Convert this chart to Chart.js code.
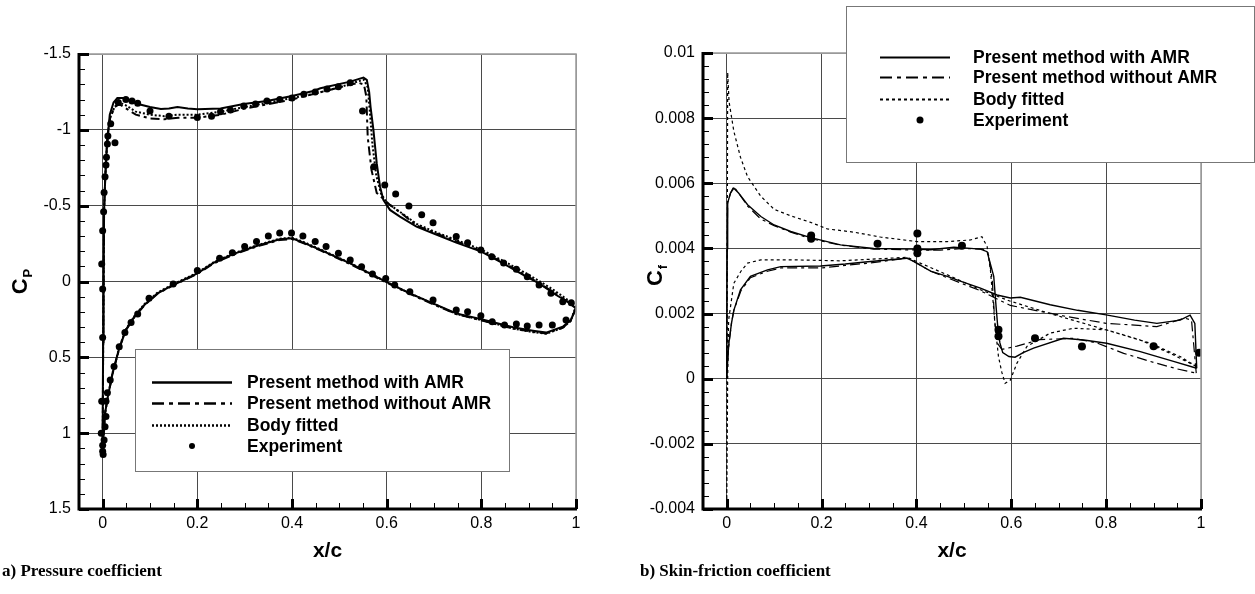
<!DOCTYPE html>
<html lang="en">
<head>
<meta charset="UTF-8">
<title>Pressure and skin-friction coefficient</title>
<style>
  body { margin: 0; background: #fff; width: 1255px; height: 594px; position: relative; overflow: hidden; }
  canvas { position: absolute; top: 0; }
  #cpChart { left: 0; }
  #cfChart { left: 630px; }
  .caption { position: absolute; top: 561px; font: bold 17px "Liberation Serif", "Times New Roman", serif; color: #000; }
</style>
</head>
<body>
<canvas id="cpChart" width="630" height="594"></canvas>
<canvas id="cfChart" width="625" height="594"></canvas>
<div class="caption" style="left:2px">a)&nbsp;Pressure coefficient</div>
<div class="caption" style="left:640px">b)&nbsp;Skin-friction coefficient</div>

<script src="https://cdn.jsdelivr.net/npm/chart.js"></script>
<script>
// axis ticks
const xTicks = [0, 0.2, 0.4, 0.6, 0.8, 1];
const cpTicks = [-1.5, -1, -0.5, 0, 0.5, 1, 1.5];
const cfTicks = [-0.004, -0.002, 0, 0.002, 0.004, 0.006, 0.008, 0.01];
const seriesNames = ['Present method with AMR', 'Present method without AMR', 'Body fitted', 'Experiment'];

// Cp, [x/c, Cp], leading edge -> trailing edge
const cpAmrUpper = [[0,1.12],[0.0005,0.8],[0.001,0.4],[0.002,0],[0.003,-0.47],[0.0055,-0.69],[0.009,-0.9],[0.012,-1.0],[0.015,-1.1],[0.023,-1.18],[0.031,-1.21],[0.045,-1.21],[0.06,-1.19],[0.081,-1.165],[0.1,-1.15],[0.123,-1.137],[0.14,-1.14],[0.158,-1.15],[0.18,-1.14],[0.2,-1.135],[0.249,-1.14],[0.298,-1.17],[0.347,-1.19],[0.4,-1.223],[0.445,-1.256],[0.46,-1.274],[0.523,-1.318],[0.551,-1.344],[0.558,-1.33],[0.563,-1.25],[0.566,-1.15],[0.572,-1.0],[0.579,-0.78],[0.586,-0.625],[0.593,-0.538],[0.607,-0.472],[0.628,-0.428],[0.663,-0.362],[0.698,-0.318],[0.747,-0.256],[0.8,-0.197],[0.846,-0.12],[0.895,-0.032],[0.922,0.012],[0.958,0.089],[0.982,0.133],[1,0.177]];
const cpAmrLower = [[0,1.12],[0.002,1.0],[0.005,0.869],[0.011,0.759],[0.021,0.605],[0.035,0.44],[0.049,0.32],[0.067,0.232],[0.088,0.155],[0.116,0.078],[0.149,0.023],[0.2,-0.054],[0.235,-0.125],[0.277,-0.182],[0.325,-0.234],[0.374,-0.278],[0.4,-0.285],[0.425,-0.255],[0.46,-0.208],[0.523,-0.12],[0.598,0.001],[0.649,0.078],[0.698,0.144],[0.747,0.21],[0.8,0.249],[0.867,0.302],[0.909,0.324],[0.937,0.337],[0.972,0.298],[0.989,0.254],[1,0.177]];
const cpNoAmrUpper = [[0,1.12],[0.0005,0.8],[0.001,0.4],[0.002,0],[0.003,-0.47],[0.0055,-0.69],[0.009,-0.9],[0.012,-1.0],[0.016,-1.08],[0.025,-1.15],[0.035,-1.17],[0.05,-1.14],[0.07,-1.1],[0.1,-1.075],[0.13,-1.07],[0.16,-1.08],[0.2,-1.08],[0.25,-1.1],[0.3,-1.14],[0.35,-1.17],[0.4,-1.2],[0.45,-1.24],[0.5,-1.28],[0.54,-1.31],[0.552,-1.3],[0.557,-1.22],[0.56,-0.95],[0.568,-0.735],[0.579,-0.584],[0.607,-0.505],[0.635,-0.44],[0.663,-0.37],[0.7,-0.322],[0.75,-0.262],[0.8,-0.2],[0.85,-0.118],[0.9,-0.03],[0.95,0.065],[1,0.172]];
const cpNoAmrLower = [[0,1.12],[0.002,1.0],[0.005,0.87],[0.011,0.76],[0.021,0.607],[0.035,0.442],[0.049,0.322],[0.067,0.235],[0.088,0.158],[0.116,0.08],[0.149,0.025],[0.2,-0.05],[0.235,-0.12],[0.277,-0.178],[0.325,-0.23],[0.374,-0.274],[0.4,-0.28],[0.425,-0.252],[0.46,-0.205],[0.523,-0.115],[0.598,0.005],[0.649,0.082],[0.698,0.15],[0.747,0.215],[0.8,0.256],[0.867,0.31],[0.909,0.332],[0.937,0.342],[0.972,0.305],[0.989,0.258],[1,0.172]];
const cpBodyUpper = [[0,1.12],[0.0005,0.8],[0.001,0.4],[0.002,0],[0.003,-0.47],[0.0055,-0.69],[0.009,-0.9],[0.012,-1.0],[0.016,-1.08],[0.025,-1.15],[0.035,-1.18],[0.05,-1.16],[0.07,-1.12],[0.1,-1.1],[0.13,-1.09],[0.16,-1.1],[0.2,-1.1],[0.25,-1.12],[0.3,-1.15],[0.35,-1.18],[0.4,-1.21],[0.45,-1.24],[0.5,-1.28],[0.54,-1.32],[0.552,-1.33],[0.56,-1.28],[0.565,-1.1],[0.57,-0.9],[0.578,-0.7],[0.588,-0.58],[0.6,-0.52],[0.63,-0.455],[0.663,-0.38],[0.7,-0.33],[0.75,-0.27],[0.8,-0.21],[0.85,-0.13],[0.9,-0.045],[0.95,0.05],[1,0.16]];
const cpBodyLower = [[0,1.12],[0.002,1.0],[0.005,0.868],[0.011,0.757],[0.021,0.6],[0.035,0.436],[0.049,0.316],[0.067,0.228],[0.088,0.15],[0.116,0.073],[0.149,0.018],[0.2,-0.058],[0.235,-0.128],[0.277,-0.186],[0.325,-0.238],[0.374,-0.282],[0.4,-0.29],[0.425,-0.26],[0.46,-0.212],[0.523,-0.122],[0.598,0.0],[0.649,0.078],[0.698,0.146],[0.747,0.214],[0.8,0.254],[0.867,0.31],[0.909,0.334],[0.937,0.345],[0.972,0.305],[0.989,0.26],[1,0.16]];
const cpExperiment = [[-0.002,-0.116],[0,-0.335],[0.002,-0.46],[0.003,-0.586],[0.005,-0.69],[0.007,-0.768],[0.008,-0.82],[0.01,-0.907],[0.011,-0.96],[0.017,-1.04],[0.026,-0.915],[0.033,-1.18],[0.049,-1.2],[0.062,-1.19],[0.074,-1.175],[0.1,-1.124],[0.14,-1.09],[0.2,-1.082],[0.23,-1.09],[0.249,-1.12],[0.27,-1.13],[0.298,-1.157],[0.323,-1.17],[0.347,-1.19],[0.374,-1.2],[0.4,-1.21],[0.425,-1.235],[0.449,-1.25],[0.474,-1.27],[0.498,-1.284],[0.523,-1.31],[0.549,-1.124],[0.573,-0.757],[0.596,-0.636],[0.619,-0.577],[0.647,-0.498],[0.674,-0.44],[0.698,-0.388],[0.747,-0.296],[0.771,-0.256],[0.799,-0.208],[0.822,-0.164],[0.847,-0.122],[0.874,-0.08],[0.897,-0.032],[0.922,0.023],[0.947,0.078],[0.972,0.133],[0.99,0.14],
  [0,0.05],[0,0.37],[-0.002,0.79],[-0.003,1.0],[0,1.08],[0,1.12],[0.001,1.14],[0.003,1.045],[0.005,0.957],[0.007,0.89],[0.007,0.79],[0.01,0.733],[0.016,0.649],[0.024,0.56],[0.035,0.43],[0.047,0.337],[0.06,0.27],[0.074,0.214],[0.098,0.11],[0.149,0.016],[0.2,-0.072],[0.247,-0.153],[0.274,-0.19],[0.3,-0.23],[0.325,-0.263],[0.35,-0.3],[0.374,-0.32],[0.399,-0.32],[0.423,-0.3],[0.449,-0.263],[0.472,-0.23],[0.498,-0.186],[0.523,-0.142],[0.547,-0.098],[0.57,-0.05],[0.598,-0.02],[0.617,0.023],[0.649,0.067],[0.698,0.122],[0.747,0.188],[0.771,0.199],[0.799,0.225],[0.823,0.265],[0.849,0.287],[0.874,0.28],[0.897,0.293],[0.922,0.287],[0.95,0.287],[0.979,0.254]];

// Cf, [x/c, Cf], leading edge -> trailing edge
const cfAmrUpper = [[0,0],[0.001,0.004],[0.002,0.0054],[0.008,0.0057],[0.015,0.00585],[0.025,0.0057],[0.044,0.00534],[0.072,0.00498],[0.1,0.00472],[0.135,0.00452],[0.177,0.00433],[0.24,0.00411],[0.31,0.004],[0.4,0.00398],[0.43,0.00396],[0.479,0.00404],[0.535,0.00398],[0.549,0.0039],[0.563,0.00314],[0.568,0.0022],[0.572,0.0015],[0.576,0.0011],[0.582,0.0008],[0.595,0.00068],[0.608,0.00066],[0.625,0.0008],[0.647,0.00094],[0.71,0.00124],[0.753,0.00119],[0.801,0.00109],[0.872,0.00083],[0.942,0.00053],[0.991,0.00032]];
const cfAmrLower = [[0,0],[0.003,0.0008],[0.005,0.00114],[0.01,0.0017],[0.015,0.0021],[0.029,0.00273],[0.05,0.00314],[0.086,0.00334],[0.114,0.00344],[0.198,0.00346],[0.25,0.00352],[0.303,0.0036],[0.38,0.0037],[0.394,0.0036],[0.43,0.0033],[0.465,0.00314],[0.5,0.00296],[0.535,0.00278],[0.57,0.00257],[0.598,0.00248],[0.619,0.0025],[0.682,0.00227],[0.74,0.0021],[0.8,0.00196],[0.86,0.0018],[0.907,0.0017],[0.956,0.0018],[0.977,0.00195],[0.987,0.0017],[0.991,0.00032]];
const cfNoAmrUpper = [[0,0],[0.001,0.004],[0.002,0.0054],[0.008,0.0057],[0.015,0.0059],[0.025,0.0057],[0.044,0.0053],[0.072,0.0049],[0.1,0.0047],[0.135,0.0045],[0.177,0.0043],[0.24,0.0041],[0.31,0.00398],[0.4,0.00395],[0.45,0.00395],[0.5,0.004],[0.54,0.00398],[0.552,0.0038],[0.56,0.003],[0.565,0.0018],[0.57,0.0011],[0.58,0.0009],[0.612,0.001],[0.66,0.0012],[0.731,0.00124],[0.78,0.0011],[0.837,0.00078],[0.9,0.0005],[0.95,0.0003],[0.99,0.00017]];
const cfNoAmrLower = [[0,0],[0.003,0.0008],[0.005,0.0011],[0.01,0.0017],[0.015,0.0021],[0.03,0.0027],[0.05,0.0031],[0.086,0.0033],[0.114,0.0034],[0.2,0.0034],[0.25,0.00348],[0.3,0.00355],[0.38,0.0037],[0.395,0.0036],[0.43,0.0033],[0.465,0.0031],[0.535,0.0027],[0.598,0.00225],[0.65,0.0021],[0.72,0.0019],[0.8,0.0017],[0.907,0.0016],[0.966,0.00186],[0.98,0.0018],[0.99,0.00017]];
const cfBodyUpper = [[0.002,0.0094],[0.005,0.0085],[0.015,0.0076],[0.029,0.0068],[0.044,0.0062],[0.072,0.0056],[0.1,0.0052],[0.135,0.005],[0.177,0.0048],[0.212,0.0046],[0.268,0.0045],[0.324,0.00435],[0.401,0.00421],[0.465,0.00421],[0.514,0.00426],[0.538,0.00436],[0.549,0.00406],[0.556,0.00334],[0.566,0.0016],[0.573,0.00068],[0.58,0.0002],[0.587,-0.00014],[0.598,-0.00004],[0.612,0.00048],[0.633,0.00099],[0.682,0.0014],[0.731,0.00155],[0.801,0.0015],[0.872,0.00119],[0.942,0.00073],[0.991,0.00037]];
const cfBodyLower = [[0,-0.004],[0.002,0],[0.004,0.0018],[0.015,0.00293],[0.03,0.0033],[0.044,0.00355],[0.072,0.00365],[0.135,0.00365],[0.24,0.00362],[0.345,0.0037],[0.38,0.00373],[0.408,0.00355],[0.465,0.00319],[0.535,0.00273],[0.598,0.00238],[0.682,0.002],[0.8,0.0015],[0.893,0.00109],[0.956,0.00068],[0.991,0.00037]];
const cfExperiment = [[0.178,0.0044],[0.178,0.0043],[0.318,0.00414],[0.402,0.00446],[0.402,0.004],[0.402,0.00385],[0.496,0.00408],[0.573,0.0015],[0.573,0.0013],[0.65,0.00124],[0.749,0.00099],[0.9,0.001],[0.996,0.0008]];

const tickFont = { family: '"Liberation Sans", Arial, sans-serif', size: 16 };
const boldFamily = '"Liberation Sans", Arial, sans-serif';

// lower surface run backwards then upper surface, so each method is one loop
const loop = (lower, upper) => lower.slice().reverse().concat(upper);

function lineSet(label, data, width, dash) {
  return { label, data, showLine: true, borderColor: '#000', borderWidth: width, borderDash: dash,
           pointRadius: 0, fill: false, tension: 0 };
}
function pointSet(label, data, r) {
  return { label, data, showLine: false, pointRadius: r, pointHoverRadius: r,
           backgroundColor: '#000', borderColor: '#000', borderWidth: 0, pointStyle: 'circle' };
}

// frame: thick left/bottom axes, grey top/right edges, inward major and minor ticks
const axisFrame = {
  id: 'axisFrame',
  afterDraw(chart, args, o) {
    const { ctx, chartArea: a, scales: { x, y } } = chart;
    ctx.save();
    ctx.strokeStyle = '#999';
    ctx.lineWidth = 1.5;
    ctx.beginPath();
    ctx.moveTo(a.left, a.top); ctx.lineTo(a.right, a.top); ctx.lineTo(a.right, a.bottom);
    ctx.stroke();

    ctx.strokeStyle = '#000';
    ctx.lineWidth = 1;
    const steps = (lo, hi, st) => { const out = []; const n = Math.round((hi - lo) / st); for (let i = 0; i <= n; i++) out.push(lo + i * st); return out; };
    ctx.beginPath();
    steps(0, 1, 0.05).forEach(v => {
      const px = Math.round(x.getPixelForValue(v)) + 0.5;
      ctx.moveTo(px, a.bottom); ctx.lineTo(px, a.bottom - 6);
    });
    steps(y.min, y.max, o.yMinor).forEach(v => {
      const py = Math.round(y.getPixelForValue(v)) + 0.5;
      ctx.moveTo(a.left, py); ctx.lineTo(a.left + 6, py);
    });
    ctx.stroke();
    ctx.lineWidth = 3;
    ctx.beginPath();
    xTicks.forEach(v => { const px = Math.round(x.getPixelForValue(v)) + 0.5; ctx.moveTo(px, a.bottom); ctx.lineTo(px, a.bottom - 10); });
    o.yMajor.forEach(v => { const py = Math.round(y.getPixelForValue(v)) + 0.5; ctx.moveTo(a.left, py); ctx.lineTo(a.left + 10, py); });
    ctx.stroke();
    ctx.beginPath();
    ctx.moveTo(a.left, a.top - 1); ctx.lineTo(a.left, a.bottom); ctx.lineTo(a.right + 1, a.bottom);
    ctx.stroke();
    ctx.restore();
  }
};

// boxed legend built from the datasets
const boxLegend = {
  id: 'boxLegend',
  afterDraw(chart, args, o) {
    const ctx = chart.ctx;
    const [l, t, r, b] = o.box;
    ctx.save();
    ctx.fillStyle = '#fff';
    ctx.fillRect(l, t, r - l, b - t);
    ctx.strokeStyle = '#777';
    ctx.lineWidth = 1;
    ctx.strokeRect(l + 0.5, t + 0.5, r - l, b - t);
    ctx.font = 'bold 17.5px ' + boldFamily;
    ctx.textBaseline = 'middle';
    ctx.fillStyle = '#000';
    ctx.strokeStyle = '#000';
    chart.data.datasets.forEach((ds, i) => {
      const yy = o.rows[i];
      if (ds.showLine === false) {
        ctx.beginPath();
        ctx.arc(o.dotX, yy, ds.pointRadius - 0.5, 0, Math.PI * 2);
        ctx.fill();
      } else {
        ctx.lineWidth = o.sampleWidth;
        ctx.setLineDash(o.sampleDash[i]);
        ctx.beginPath();
        ctx.moveTo(o.sample[0], Math.round(yy) + 0.5);
        ctx.lineTo(o.sample[1], Math.round(yy) + 0.5);
        ctx.stroke();
        ctx.setLineDash([]);
      }
      ctx.fillText(ds.label, o.textX, yy + 1);
    });
    ctx.restore();
  }
};

// rotated y title with subscript
const yTitle = {
  id: 'yTitle',
  afterDraw(chart, args, o) {
    const ctx = chart.ctx;
    ctx.save();
    ctx.translate(o.x, o.y);
    ctx.rotate(-Math.PI / 2);
    ctx.fillStyle = '#000';
    ctx.textBaseline = 'alphabetic';
    ctx.font = 'bold 22px ' + boldFamily;
    const w1 = ctx.measureText(o.main).width;
    ctx.font = 'bold 13px ' + boldFamily;
    const w2 = ctx.measureText(o.sub).width;
    const start = -(w1 + w2) / 2;
    ctx.font = 'bold 22px ' + boldFamily;
    ctx.fillText(o.main, start, 0);
    ctx.font = 'bold 13px ' + boldFamily;
    ctx.fillText(o.sub, start + w1 + 1, 5);
    ctx.restore();
  }
};

function xScale() {
  return {
    type: 'linear', min: -0.05, max: 1,
    afterBuildTicks: s => { s.ticks = xTicks.map(v => ({ value: v })); },
    afterFit: s => { s.height = 60; },
    grid: { color: c => (c.tick && c.tick.value === 1) ? '#999' : '#4a4a4a', lineWidth: 1, drawTicks: false },
    border: { display: false },
    ticks: { font: tickFont, color: '#000', padding: 5, autoSkip: false, maxRotation: 0, callback: v => String(v) },
    title: { display: true, text: 'x/c', color: '#000', font: { family: boldFamily, size: 21, weight: 'bold' }, padding: { top: 0, bottom: 5 } }
  };
}
function yScale(min, max, ticks, width, reverse) {
  return {
    type: 'linear', min, max, reverse,
    afterBuildTicks: s => { s.ticks = ticks.map(v => ({ value: v })); },
    afterFit: s => { s.width = width; },
    grid: { color: c => (c.tick && (c.tick.value === ticks[0] || c.tick.value === ticks[ticks.length - 1])) ? '#999' : '#4a4a4a', lineWidth: 1, drawTicks: false },
    border: { display: false },
    ticks: { font: tickFont, color: '#000', padding: 8, autoSkip: false, callback: v => String(v) }
  };
}

const common = { responsive: false, animation: false, events: [] };

new Chart(document.getElementById('cpChart'), {
  type: 'scatter',
  data: {
    datasets: [
      lineSet(seriesNames[0], loop(cpAmrLower, cpAmrUpper), 2, []),
      lineSet(seriesNames[1], loop(cpNoAmrLower, cpNoAmrUpper), 2, [9, 4, 3, 4]),
      lineSet(seriesNames[2], loop(cpBodyLower, cpBodyUpper), 2, [2, 2]),
      pointSet(seriesNames[3], cpExperiment, 3.5)
    ]
  },
  options: {
    ...common,
    layout: { padding: { left: 0, top: 54, right: 54, bottom: 25 } },
    scales: { x: xScale(), y: yScale(-1.5, 1.5, cpTicks, 79, true) },
    plugins: {
      legend: { display: false }, tooltip: { enabled: false },
      axisFrame: { yMinor: 0.1, yMajor: cpTicks },
      boxLegend: { box: [135, 349, 509, 471], rows: [382, 403, 425, 446], sample: [152, 232], dotX: 192, textX: 247,
                   sampleWidth: 2.5, sampleDash: [[], [12, 5, 4, 5], [2, 2]] },
      yTitle: { x: 27, y: 282, main: 'C', sub: 'P' }
    }
  },
  plugins: [axisFrame, boxLegend, yTitle]
});

new Chart(document.getElementById('cfChart'), {
  type: 'scatter',
  data: {
    datasets: [
      lineSet(seriesNames[0], loop(cfAmrLower, cfAmrUpper), 1.4, []),
      lineSet(seriesNames[1], loop(cfNoAmrLower, cfNoAmrUpper), 1.2, [10, 4, 3, 4]),
      lineSet(seriesNames[2], loop(cfBodyLower, cfBodyUpper), 1.2, [3, 3]),
      pointSet(seriesNames[3], cfExperiment, 4)
    ]
  },
  options: {
    ...common,
    layout: { padding: { left: 0, top: 53, right: 54, bottom: 25 } },
    scales: { x: xScale(), y: yScale(-0.004, 0.01, cfTicks, 73, false) },
    plugins: {
      legend: { display: false }, tooltip: { enabled: false },
      axisFrame: { yMinor: 0.0004, yMajor: cfTicks },
      boxLegend: { box: [216, 6, 624, 162], rows: [57, 77, 99, 120], sample: [250, 320], dotX: 290, textX: 343,
                   sampleWidth: 2, sampleDash: [[], [12, 5, 4, 5], [3, 3]] },
      yTitle: { x: 32, y: 276, main: 'C', sub: 'f' }
    }
  },
  plugins: [axisFrame, boxLegend, yTitle]
});
</script>
</body>
</html>
